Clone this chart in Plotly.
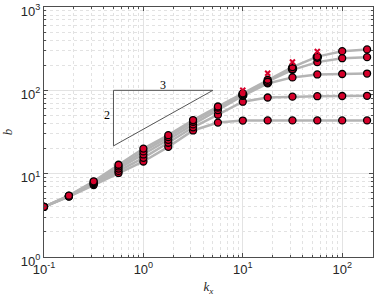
import plotly.graph_objects as go

kx = [0.1, 0.178, 0.316, 0.562, 1.0, 1.78, 3.16, 5.62, 10.0, 17.8, 31.6, 56.2, 100.0, 178.0]

b_s1 = [4.0, 5.3, 7.3, 10.2, 14.0, 21.0, 33.0, 41.0, 43.4, 43.6, 43.6, 43.6, 43.6, 43.6]
b_s2 = [4.0, 5.35, 7.5, 10.8, 15.5, 23.5, 36.0, 51.0, 73.0, 82.0, 84.0, 85.0, 85.5, 86.0]
b_s3 = [4.0, 5.4, 7.7, 11.5, 17.0, 25.5, 39.0, 58.0, 86.0, 121.0, 143.0, 155.0, 157.0, 159.0]
b_s4 = [4.0, 5.4, 7.9, 12.2, 18.5, 27.5, 42.0, 62.0, 90.0, 128.0, 176.0, 218.0, 243.0, 250.0]
b_s5 = [4.0, 5.45, 8.1, 12.8, 20.0, 29.0, 44.0, 64.0, 92.0, 134.0, 190.0, 254.0, 295.0, 310.0]
series = [b_s1, b_s2, b_s3, b_s4, b_s5]

kx_open = [10.0, 17.8, 31.6, 56.2]
b_open = [88.0, 125.0, 182.0, 250.0]

kx_x = [10.0, 17.8, 31.6, 56.2]
b_x = [100.0, 160.0, 219.0, 292.0]

tri_x = [0.5, 5.0, 0.5, 0.5]
tri_y = [100.0, 100.0, 21.54, 100.0]

xtick_vals = [0.1, 1, 10, 100]
xtick_text = ["10<sup>-1</sup>", "10<sup>0</sup>", "10<sup>1</sup>", "10<sup>2</sup>"]
ytick_vals = [1, 10, 100, 1000]
ytick_text = ["10<sup>0</sup>", "10<sup>1</sup>", "10<sup>2</sup>", "10<sup>3</sup>"]

x_minor = [m * 10 ** e for e in (-1, 0, 1, 2) for m in range(2, 10)]
y_minor = [m * 10 ** e for e in (0, 1, 2) for m in range(2, 10)]

RED = "#d6002a"
fig = go.Figure()

fig.add_trace(go.Scatter(x=tri_x, y=tri_y, mode="lines",
                         line=dict(color="#555555", width=1), hoverinfo="skip"))

for s in series:
    fig.add_trace(go.Scatter(x=kx, y=s, mode="lines",
                             line=dict(color="#b4b4b4", width=2.5)))
for s in series:
    fig.add_trace(go.Scatter(x=kx, y=s, mode="markers",
                             marker=dict(symbol="circle", size=7, color=RED,
                                         line=dict(color="black", width=1.3))))

fig.add_trace(go.Scatter(x=kx_open, y=b_open, mode="markers",
                         marker=dict(symbol="circle-open", size=8, color="black",
                                     line=dict(width=1.5))))
fig.add_trace(go.Scatter(x=kx_x, y=b_x, mode="markers",
                         marker=dict(symbol="x-thin", size=5, color=RED,
                                     line=dict(color=RED, width=2))))

fig.add_annotation(x=0.2, y=2.07, xref="x", yref="y", text="3", showarrow=False,
                   font=dict(family="Liberation Serif", size=12, color="black"))
fig.add_annotation(x=-0.37, y=1.70, xref="x", yref="y", text="2", showarrow=False,
                   font=dict(family="Liberation Serif", size=12, color="black"))


def axis_common(minor_vals):
    return dict(
        type="log", showline=True, linecolor="#4d4d4d", linewidth=1, mirror="allticks",
        ticks="inside", ticklen=4, tickcolor="#4d4d4d", automargin=False,
        ticklabeloverflow="allow",
        showgrid=True, gridcolor="#e3e3e3", gridwidth=1, zeroline=False,
        tickfont=dict(family="Liberation Sans", size=13, color="#262626"),
        minor=dict(tickmode="array", tickvals=minor_vals, ticks="inside", ticklen=2,
                   tickcolor="#4d4d4d", showgrid=True,
                   gridcolor="#e2e2e2", griddash="dot", gridwidth=1),
    )


fig.update_layout(
    width=374, height=298,
    margin=dict(l=44, r=1, t=7, b=41),
    paper_bgcolor="white", plot_bgcolor="white",
    showlegend=False,
    xaxis=dict(axis_common(x_minor), range=[-1, 2.31], tickvals=xtick_vals, ticktext=xtick_text,
               title=dict(text="<i>k</i><sub><i>x</i></sub>", standoff=6,
                          font=dict(family="Liberation Serif", size=13, color="#262626"))),
    yaxis=dict(axis_common(y_minor), range=[0, 3], tickvals=ytick_vals, ticktext=ytick_text,
               ticklabelshift=4,
               title=dict(text="<i>b</i>", standoff=8,
                          font=dict(family="Liberation Serif", size=13, color="#262626"))),
)

fig.write_html("out.html", config={"displayModeBar": False},
               post_script="document.body.style.margin='0px';")
